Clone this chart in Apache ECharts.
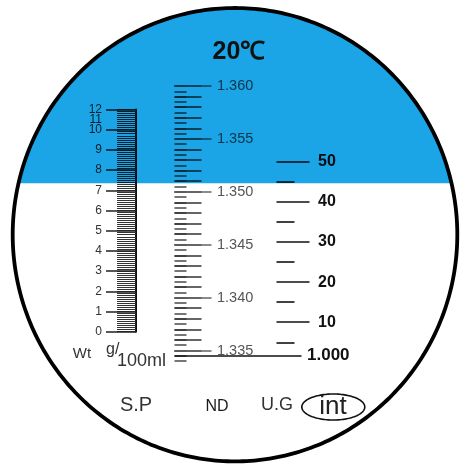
<!DOCTYPE html>
<html><head><meta charset="utf-8">
<script src="https://cdn.jsdelivr.net/npm/echarts@6/dist/echarts.min.js"></script>
<style>html,body{margin:0;padding:0;background:#fff}#c{width:461px;height:465px}</style>
</head><body><div id="c"></div>
<script>
// ---------- data ----------
const titleText = '20\u2103';
const ndMajorTicks = [1.335, 1.340, 1.345, 1.350, 1.355, 1.360];
const ndTickRange = [1.334, 1.360];
const ndMidStep = 0.001;
const ndMinorStep = 0.0005;
const ugMajorTicks = [10, 20, 30, 40, 50];
const ugMinorTicks = [5, 15, 25, 35, 45];
const ugBaseLabel = '1.000';
const ugBaseND = 1.3345;
const wtLabels = ['0','1','2','3','4','5','6','7','8','9','10','11','12'];
const wtPositions = [0,1,2,3,4,5,6,7,8,9,10,10.5,11];
const wtLadderStep = 0.1;
const wtMajorStep = 1;
const wtRange = [0, 11];
const scaleNames = ['S.P', 'ND', 'U.G', 'int'];
const unitParts = ['Wt', 'g/', '100ml'];

// ---------- layout ----------
const FONT = 'Liberation Sans, Arial, Helvetica, sans-serif';
const ND_TOP_VAL = 1.360, ND_TOP_Y = 86, ND_PX = 10580;
const ndTop = v => ND_TOP_Y + (ND_TOP_VAL - v) * ND_PX;
const ND_X = 175, UG_X = 277, WT_X = 136;
const UG_TOP_Y = 161.7, UG_BOT_Y = 342.3;
const WT_TOP_Y = 109.5, WT_BOT_Y = 331.7;
const GW = 0.5;

const grids = [], xAxes = [], yAxes = [];
function addAxis(gridBox, y) {
  const i = grids.length;
  grids.push(Object.assign({containLabel:false, show:false}, gridBox));
  xAxes.push({gridIndex:i, type:'value', show:false, min:0, max:1});
  yAxes.push(Object.assign({gridIndex:i, type:'value', splitLine:{show:false},
    axisLine:{show:false}, axisLabel:{show:false}}, y));
}
function ndBox(min, max) {
  return {left: ND_X - GW, width: GW, top: ndTop(max), height: (max - min) * ND_PX};
}
// ND: short ticks
addAxis(ndBox(ndTickRange[0], ndTickRange[1]), {min:ndTickRange[0], max:ndTickRange[1], interval:ndMinorStep,
  position:'right', axisTick:{length:12, lineStyle:{color:'#4a4a4a', width:1.5}}});
// ND: mid ticks
addAxis(ndBox(ndMajorTicks[0], ndTickRange[1]), {min:ndMajorTicks[0], max:ndTickRange[1], interval:ndMidStep,
  position:'right', axisTick:{length:27, lineStyle:{color:'#333', width:1.5}}});
// ND: major ticks + labels
addAxis(ndBox(ndMajorTicks[0], ndTickRange[1]), {min:ndMajorTicks[0], max:ndTickRange[1], position:'right',
  axisTick:{length:37, customValues:ndMajorTicks, lineStyle:{color:'#666', width:1.5}},
  axisLabel:{show:true, customValues:ndMajorTicks, showMinLabel:true, showMaxLabel:true, margin:42, fontSize:14.5, fontFamily:FONT, color:'#555',
    formatter: v => Number(v).toFixed(3)}});
// U.G base line (1.000)
addAxis(ndBox(ndTickRange[0], ndTickRange[1]), {min:ndTickRange[0], max:ndTickRange[1], position:'right',
  axisTick:{length:127, customValues:[ugBaseND], lineStyle:{color:'#111', width:1.6}},
  axisLabel:{show:true, customValues:[ugBaseND], margin:132, fontSize:17, fontWeight:'bold', fontFamily:FONT, color:'#111',
    formatter: () => ugBaseLabel}});
// U.G scale
const ugBox = {left: UG_X - GW, width: GW, top: UG_TOP_Y, height: UG_BOT_Y - UG_TOP_Y};
addAxis(ugBox, {min:ugMinorTicks[0], max:ugMajorTicks[ugMajorTicks.length-1], position:'right',
  axisTick:{length:18, customValues:ugMinorTicks, lineStyle:{color:'#111', width:1.6}}});
addAxis(ugBox, {min:ugMinorTicks[0], max:ugMajorTicks[ugMajorTicks.length-1], position:'right',
  axisTick:{length:33, customValues:ugMajorTicks, lineStyle:{color:'#111', width:1.6}},
  axisLabel:{show:true, customValues:ugMajorTicks, showMinLabel:true, showMaxLabel:true, margin:41, fontSize:16, fontWeight:'bold', fontFamily:FONT, color:'#111',
    formatter: v => String(v)}});
// Wt ladder
const wtBox = {left: WT_X, width: GW, top: WT_TOP_Y, height: WT_BOT_Y - WT_TOP_Y};
addAxis(wtBox, {min:wtRange[0], max:wtRange[1], interval:wtLadderStep, position:'left',
  axisLine:{show:true, lineStyle:{color:'#111', width:2}},
  axisTick:{length:19, lineStyle:{color:'#333', width:1}}});
const wtLabelFor = v => { const i = wtPositions.findIndex(p => Math.abs(p - v) < 1e-6); return i >= 0 ? wtLabels[i] : ''; };
const wtEven = wtPositions.filter((p, i) => i % 2 === 0);
const wtOdd = wtPositions.filter((p, i) => i % 2 === 1);
addAxis(wtBox, {min:wtRange[0], max:wtRange[1], interval:wtMajorStep, position:'left',
  axisTick:{length:30, lineStyle:{color:'#222', width:1.5}},
  axisLabel:{show:true, customValues:wtEven, showMinLabel:true, showMaxLabel:true, margin:34, fontSize:12, fontFamily:FONT, color:'#333',
    formatter: wtLabelFor}});
addAxis(wtBox, {min:wtRange[0], max:wtRange[1], position:'left',
  axisTick:{show:false},
  axisLabel:{show:true, customValues:wtOdd, showMinLabel:true, showMaxLabel:true, margin:34, fontSize:12, fontFamily:FONT, color:'#333',
    formatter: wtLabelFor}});

// ---------- decoration ----------
const CX = 235, CY = 234.7, RX = 222.3, RY = 226.7, BLUE_Y = 183.5;
function ellipsePts(cx, cy, rx, ry, t0, t1, n) {
  const pts = [];
  for (let k = 0; k <= n; k++) {
    const t = t0 + (t1 - t0) * k / n;
    pts.push([cx + rx * Math.cos(t), cy - ry * Math.sin(t)]);
  }
  return pts;
}
const tb = Math.asin((CY - BLUE_Y) / RY);
const bluePts = ellipsePts(CX, CY, RX + 1, RY + 1, tb, Math.PI - tb, 200);
const ringPts = ellipsePts(CX, CY, RX, RY, 0, Math.PI * 2, 360);
const intPts = ellipsePts(333.3, 407, 31.5, 13, 0, Math.PI * 2, 120);

const txt = (x, y, text, size, extra) => ({type:'text', x, y, z:120,
  style:Object.assign({text, fontSize:size, fontFamily:FONT, fill:'#333', align:'center', verticalAlign:'middle'}, extra || {})});

const graphics = [
  {type:'polygon', z:100, shape:{points:bluePts}, style:{fill:'#1ba5e6', blend:'multiply'}, silent:true},
  {type:'polyline', z:110, shape:{points:ringPts}, style:{stroke:'#000', lineWidth:3.8, fill:null}, silent:true},
  txt(239, 52, titleText, 25, {fontWeight:'bold', fill:'#111'}),
  txt(136, 405, scaleNames[0], 20),
  txt(217, 407, scaleNames[1], 16, {fill:'#1a1a1a'}),
  txt(277, 405, scaleNames[2], 18),
  {type:'polyline', z:110, shape:{points:intPts}, style:{stroke:'#111', lineWidth:1.6, fill:null}, silent:true},
  txt(333, 407, scaleNames[3], 26, {fill:'#222'}),
  txt(82, 354, unitParts[0], 15),
  txt(106, 350, unitParts[1], 16, {align:'left'}),
  txt(117, 361, unitParts[2], 18, {align:'left'})
];

const chart = echarts.init(document.getElementById('c'), null, {renderer:'canvas'});
chart.setOption({
  animation:false,
  backgroundColor:'#fff',
  grid:grids, xAxis:xAxes, yAxis:yAxes,
  series:[],
  graphic:{elements:graphics}
});
</script></body></html>
